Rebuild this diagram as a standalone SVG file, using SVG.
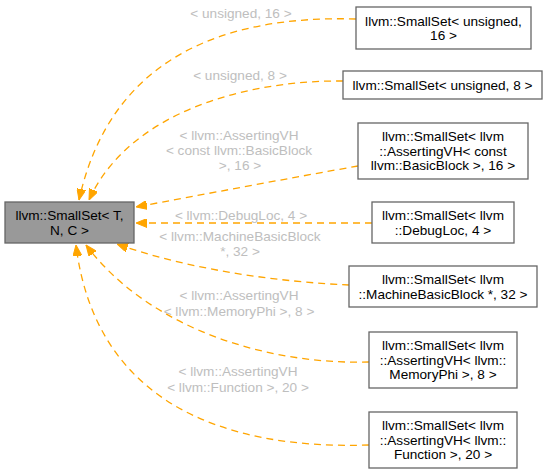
<svg xmlns="http://www.w3.org/2000/svg" width="547" height="474" viewBox="0 0 547 474">
<style>
text{font-family:"Liberation Sans",Arial,sans-serif;font-size:13.6px;text-anchor:middle}
.n rect{fill:#fff;stroke:#666;stroke-width:1.3}
.m rect{fill:#999;stroke:#666;stroke-width:1.3}
.n text,.m text{fill:#000}
.e path{fill:none;stroke:#ffa500;stroke-width:1.3;stroke-dasharray:7,5;marker-end:url(#ah)}
.e text{fill:#bebebe}
</style>
<defs>
<marker id="ah" viewBox="0 0 11 9" refX="11" refY="4.5" markerWidth="11" markerHeight="9" markerUnits="userSpaceOnUse" orient="auto">
<path d="M0,0 L11,4.5 L0,9 Z" fill="#ffa500" stroke="#ffa500" stroke-width="1"/>
</marker>
</defs>
<g id="edges" class="e">
<path d="M356,19 C220,15 110,60 79,200"/>
<text x="241" y="18">&lt; unsigned, 16 &gt;</text>
<path d="M343,81 C250,80 130,110 89,200"/>
<text x="240" y="80">&lt; unsigned, 8 &gt;</text>
<path d="M358,166 C290,178 200,195 136,207"/>
<text x="239" y="140">&lt; llvm::AssertingVH</text>
<text x="239" y="155">&lt; const llvm::BasicBlock</text>
<text x="240" y="170">&gt;, 16 &gt;</text>
<path d="M372,223 L136,223"/>
<text x="241" y="220">&lt; llvm::DebugLoc, 4 &gt;</text>
<path d="M349,285 C280,282 190,270 117,244"/>
<text x="240" y="241">&lt; llvm::MachineBasicBlock</text>
<text x="240" y="256">*, 32 &gt;</text>
<path d="M369,362 C270,365 150,330 86,245"/>
<text x="239" y="300">&lt; llvm::AssertingVH</text>
<text x="239" y="316">&lt; llvm::MemoryPhi &gt;, 8 &gt;</text>
<path d="M369,445 C220,450 95,400 76,245"/>
<text x="238" y="376">&lt; llvm::AssertingVH</text>
<text x="238" y="392">&lt; llvm::Function &gt;, 20 &gt;</text>
</g>
<g id="main" class="m">
<rect x="5" y="202" width="129" height="41"/>
<text x="69.5" y="220">llvm::SmallSet&lt; T,</text>
<text x="69.5" y="234.5">N, C &gt;</text>
</g>
<g id="n1" class="n">
<rect x="356" y="7" width="175" height="42"/>
<text x="443.5" y="25.5">llvm::SmallSet&lt; unsigned,</text>
<text x="443.5" y="40">16 &gt;</text>
</g>
<g id="n2" class="n">
<rect x="343" y="71" width="199" height="28"/>
<text x="442.5" y="89.7">llvm::SmallSet&lt; unsigned, 8 &gt;</text>
</g>
<g id="n3" class="n">
<rect x="358" y="123" width="170" height="56"/>
<text x="443" y="141.2">llvm::SmallSet&lt; llvm</text>
<text x="443" y="155.7">::AssertingVH&lt; const</text>
<text x="443" y="170.2">llvm::BasicBlock &gt;, 16 &gt;</text>
</g>
<g id="n4" class="n">
<rect x="372" y="202" width="142" height="41"/>
<text x="443" y="220">llvm::SmallSet&lt; llvm</text>
<text x="443" y="234.5">::DebugLoc, 4 &gt;</text>
</g>
<g id="n5" class="n">
<rect x="349" y="266" width="188" height="41"/>
<text x="443" y="284">llvm::SmallSet&lt; llvm</text>
<text x="443" y="298.5">::MachineBasicBlock *, 32 &gt;</text>
</g>
<g id="n6" class="n">
<rect x="369" y="332" width="148" height="56"/>
<text x="443" y="350.2">llvm::SmallSet&lt; llvm</text>
<text x="443" y="364.7">::AssertingVH&lt; llvm::</text>
<text x="443" y="379.2">MemoryPhi &gt;, 8 &gt;</text>
</g>
<g id="n7" class="n">
<rect x="369" y="412" width="148" height="56"/>
<text x="443" y="430.2">llvm::SmallSet&lt; llvm</text>
<text x="443" y="444.7">::AssertingVH&lt; llvm::</text>
<text x="443" y="459.2">Function &gt;, 20 &gt;</text>
</g>
</svg>
